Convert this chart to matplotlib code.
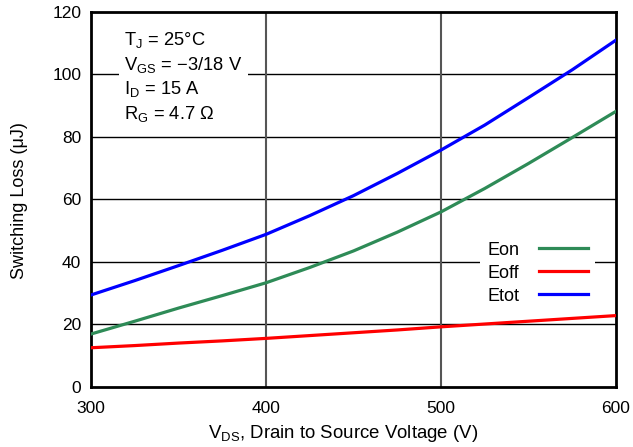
import matplotlib
matplotlib.use("Agg")
import matplotlib.pyplot as plt

plt.rcParams['font.family'] = ['Liberation Sans', 'DejaVu Sans']
plt.rcParams['mathtext.fontset'] = 'custom'
plt.rcParams['mathtext.rm'] = 'Liberation Sans'

vds = [300, 325, 350, 375, 400, 425, 450, 475, 500, 525, 550, 575, 600]
eon = [16.9, 21.0, 25.2, 29.2, 33.3, 38.2, 43.5, 49.5, 56.0, 63.5, 71.5, 79.8, 88.2]
eoff = [12.5, 13.2, 14.0, 14.7, 15.5, 16.4, 17.3, 18.2, 19.2, 20.1, 21.0, 21.9, 22.8]
etot = [29.4, 34.0, 38.8, 43.7, 48.8, 54.8, 61.2, 68.3, 75.8, 83.8, 92.6, 101.5, 111.0]

xticks = [300, 400, 500, 600]
yticks = [0, 20, 40, 60, 80, 100, 120]

fig = plt.figure(figsize=(6.33, 4.47), dpi=100)
ax = fig.add_axes([91/633, 1-386.8/447, (616-91)/633, (386.8-12)/447])

ax.set_xlim(300, 600)
ax.set_ylim(0, 120)
ax.set_xticks(xticks)
ax.set_yticks(yticks)
ax.tick_params(length=0, labelsize=12.5)
ax.tick_params(axis='y', pad=7)
ax.tick_params(axis='x', pad=10)
for y in yticks[1:-1]:
    ax.axhline(y, color='black', lw=1.0, zorder=1)
for x in xticks[1:-1]:
    ax.axvline(x, color='#555555', lw=1.5, zorder=1)
for s in ax.spines.values():
    s.set_linewidth(2)
    s.set_color('black')

l1, = ax.plot(vds, eon, color='#2E8B57', lw=2.3, zorder=3, label='Eon')
l2, = ax.plot(vds, eoff, color='#FF0000', lw=2.3, zorder=3, label='Eoff')
l3, = ax.plot(vds, etot, color='#0000FF', lw=2.3, zorder=3, label='Etot')

ax.text(319, 114.3,
        '$\\mathregular{T_J}$ = 25°C\n$\\mathregular{V_{GS}}$ = \u22123/18 V\n'
        '$\\mathregular{I_D}$ = 15 A\n$\\mathregular{R_G}$ = 4.7 \u03a9',
        fontsize=13.2, va='top', ha='left', linespacing=1.32,
        bbox=dict(facecolor='white', edgecolor='none', pad=4), zorder=4)

leg = ax.legend(handles=[l1, l2, l3], loc='lower right',
                bbox_to_anchor=(0.96, 0.2), frameon=True, fontsize=13,
                handlelength=2.7, handletextpad=1.1, markerfirst=False,
                labelspacing=0.33, borderpad=0.4, borderaxespad=0)
leg.get_frame().set_edgecolor('none')
leg.get_frame().set_facecolor('white')
leg.get_frame().set_alpha(1)
leg.set_zorder(4)

ax.set_xlabel('$\\mathregular{V_{DS}}$, Drain to Source Voltage (V)', fontsize=13.4)
ax.xaxis.set_label_coords((343.5-91)/525, -(423-386.8)/374.8)
ax.set_ylabel('Switching Loss (\u03bcJ)', fontsize=13)
ax.yaxis.set_label_coords((28-91)/525, (386.8-201)/374.8)

fig.savefig('out.png', dpi=100)
